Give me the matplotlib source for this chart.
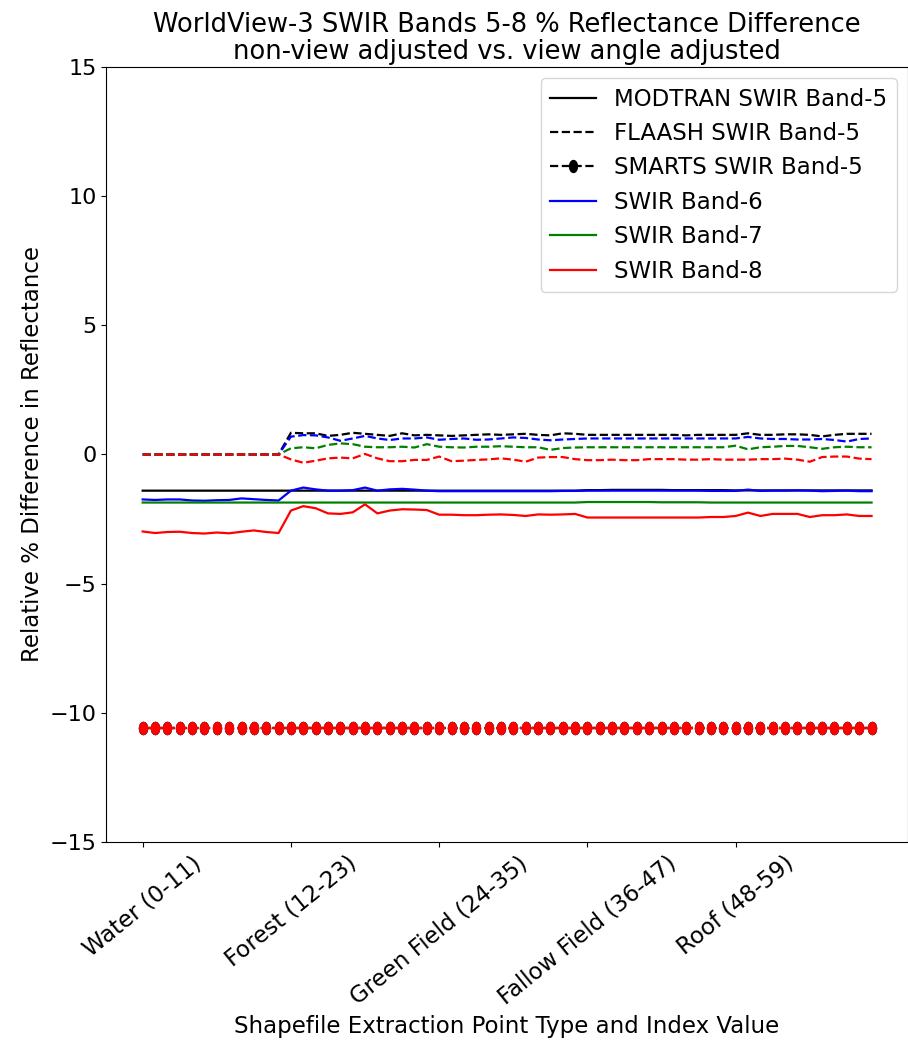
import matplotlib
matplotlib.use("Agg")
import matplotlib.pyplot as plt
from matplotlib.path import Path
import numpy as np

categories = ["Water (0-11)", "Forest (12-23)", "Green Field (24-35)",
              "Fallow Field (36-47)", "Roof (48-59)"]
tick_positions = [0, 12, 24, 36, 48]
idx = np.arange(60)

# MODTRAN (solid)
modtran_b5 = ([-1.40] * 12 + [-1.40] * 12 + [-1.40] * 12
              + [-1.38, -1.38, -1.37, -1.37, -1.37, -1.37, -1.37, -1.38, -1.38, -1.38, -1.38, -1.38]
              + [-1.39] * 12)
modtran_b6 = ([-1.74, -1.76, -1.74, -1.74, -1.78, -1.79, -1.77, -1.76, -1.70, -1.73, -1.76, -1.78]
              + [-1.40, -1.28, -1.35, -1.40, -1.40, -1.38, -1.28, -1.40, -1.35, -1.33, -1.36, -1.40]
              + [-1.42, -1.42, -1.42, -1.42, -1.42, -1.42, -1.42, -1.42, -1.42, -1.42, -1.41, -1.41]
              + [-1.40, -1.40, -1.40, -1.40, -1.40, -1.40, -1.40, -1.40, -1.40, -1.40, -1.41, -1.41]
              + [-1.41, -1.36, -1.41, -1.40, -1.40, -1.39, -1.40, -1.42, -1.41, -1.40, -1.42, -1.42])
modtran_b7 = ([-1.86] * 36
              + [-1.84, -1.84, -1.84, -1.84, -1.84, -1.84, -1.85, -1.85, -1.85, -1.85, -1.86, -1.86]
              + [-1.86] * 12)
modtran_b8 = ([-2.98, -3.04, -3.00, -2.99, -3.04, -3.06, -3.02, -3.05, -2.99, -2.94, -3.00, -3.04]
              + [-2.17, -2.00, -2.08, -2.28, -2.30, -2.24, -1.93, -2.28, -2.17, -2.12, -2.13, -2.15]
              + [-2.33, -2.33, -2.35, -2.35, -2.33, -2.32, -2.34, -2.38, -2.32, -2.33, -2.32, -2.30]
              + [-2.44, -2.44, -2.44, -2.44, -2.44, -2.44, -2.44, -2.44, -2.44, -2.44, -2.42, -2.42]
              + [-2.38, -2.25, -2.38, -2.30, -2.30, -2.30, -2.42, -2.35, -2.35, -2.32, -2.38, -2.38])

# FLAASH (dashed)
flaash_b5 = ([0.0] * 12
             + [0.84, 0.82, 0.82, 0.72, 0.76, 0.84, 0.80, 0.76, 0.72, 0.82, 0.74, 0.76]
             + [0.74, 0.72, 0.74, 0.76, 0.78, 0.76, 0.78, 0.80, 0.76, 0.74, 0.82, 0.80]
             + [0.76, 0.76, 0.76, 0.76, 0.76, 0.76, 0.76, 0.76, 0.74, 0.76, 0.76, 0.76]
             + [0.76, 0.82, 0.76, 0.76, 0.78, 0.78, 0.76, 0.70, 0.76, 0.80, 0.80, 0.80])
flaash_b6 = ([0.0] * 12
             + [0.69, 0.75, 0.74, 0.66, 0.53, 0.62, 0.72, 0.62, 0.56, 0.62, 0.62, 0.66]
             + [0.57, 0.60, 0.62, 0.57, 0.58, 0.62, 0.66, 0.64, 0.58, 0.55, 0.58, 0.60]
             + [0.62, 0.62, 0.62, 0.62, 0.62, 0.62, 0.62, 0.62, 0.62, 0.62, 0.62, 0.62]
             + [0.62, 0.68, 0.62, 0.60, 0.60, 0.58, 0.58, 0.60, 0.56, 0.50, 0.60, 0.62])
flaash_b7 = ([0.0] * 12
             + [0.24, 0.28, 0.24, 0.37, 0.43, 0.40, 0.30, 0.28, 0.28, 0.30, 0.27, 0.40]
             + [0.30, 0.28, 0.27, 0.30, 0.30, 0.32, 0.30, 0.28, 0.28, 0.18, 0.25, 0.27]
             + [0.28, 0.28, 0.28, 0.28, 0.28, 0.28, 0.28, 0.28, 0.28, 0.28, 0.28, 0.28]
             + [0.34, 0.20, 0.28, 0.30, 0.33, 0.33, 0.28, 0.22, 0.28, 0.30, 0.28, 0.28])
flaash_b8 = ([0.0] * 12
             + [-0.19, -0.32, -0.24, -0.15, -0.12, -0.15, 0.02, -0.15, -0.26, -0.26, -0.21, -0.21]
             + [-0.08, -0.26, -0.24, -0.21, -0.19, -0.15, -0.20, -0.28, -0.12, -0.10, -0.10, -0.18]
             + [-0.22, -0.22, -0.20, -0.22, -0.22, -0.18, -0.18, -0.18, -0.20, -0.20, -0.18, -0.20]
             + [-0.20, -0.20, -0.18, -0.18, -0.16, -0.20, -0.28, -0.10, -0.08, -0.08, -0.16, -0.18])

# SMARTS (dashed with dots)
smarts_b5 = [-10.6] * 60
smarts_b6 = [-10.6] * 60
smarts_b7 = [-10.6] * 60
smarts_b8 = [-10.6] * 60

# slightly tall elliptical dot, as in the reference
_t = np.linspace(0, 2 * np.pi, 41)
ellipse = Path(np.column_stack([0.66 * np.cos(_t), np.sin(_t)]), closed=True)

fig = plt.figure(figsize=(9.08, 10.46), dpi=100)
ax = fig.add_axes([0.117, 0.195, 0.883, 0.741])

fs = 16.5
lw = 1.6
ms = 8.6

ax.plot(idx, modtran_b5, color="black", lw=lw, label="MODTRAN SWIR Band-5")
ax.plot(idx, flaash_b5, color="black", lw=lw, ls="--", label="FLAASH SWIR Band-5")
ax.plot(idx, smarts_b5, color="black", lw=lw, ls="--", marker=ellipse, ms=ms, label="SMARTS SWIR Band-5")

ax.plot(idx, modtran_b6, color="blue", lw=lw, label="SWIR Band-6")
ax.plot(idx, flaash_b6, color="blue", lw=lw, ls="--")
ax.plot(idx, smarts_b6, color="blue", lw=lw, ls="--", marker=ellipse, ms=ms)

ax.plot(idx, modtran_b7, color="green", lw=lw, label="SWIR Band-7")
ax.plot(idx, flaash_b7, color="green", lw=lw, ls="--")
ax.plot(idx, smarts_b7, color="green", lw=lw, ls="--", marker=ellipse, ms=ms)

ax.plot(idx, modtran_b8, color="red", lw=lw, label="SWIR Band-8")
ax.plot(idx, flaash_b8, color="red", lw=lw, ls="--")
ax.plot(idx, smarts_b8, color="red", lw=lw, ls="--", marker=ellipse, ms=ms)

ax.set_ylim(-15, 15)
ax.set_yticks([-15, -10, -5, 0, 5, 10, 15])
ax.tick_params(axis="y", labelsize=16)
ax.set_xticks(tick_positions)
ax.set_xticklabels(categories, rotation=39, fontsize=fs)

ax.set_title("WorldView-3 SWIR Bands 5-8 % Reflectance Difference\nnon-view adjusted vs. view angle adjusted",
             fontsize=18.5, linespacing=1.05)
ax.set_xlabel("Shapefile Extraction Point Type and Index Value", fontsize=fs)
ax.set_ylabel("Relative % Difference in Reflectance", fontsize=fs)

ax.legend(loc="upper right", fontsize=fs)

fig.savefig("out.png", dpi=100)
